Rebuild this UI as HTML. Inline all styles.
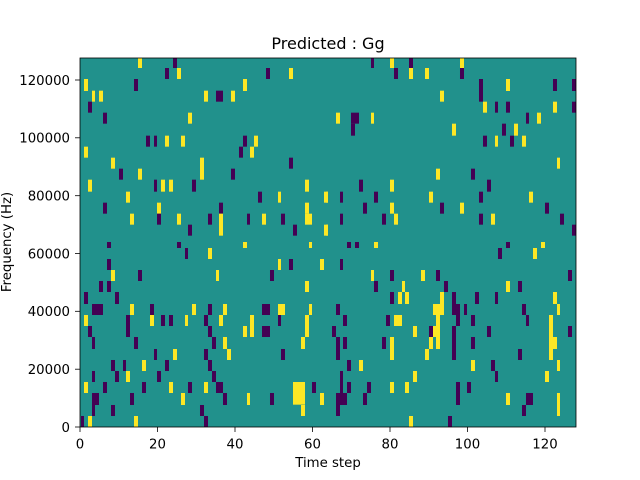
<!DOCTYPE html>
<html><head><meta charset="utf-8"><style>
body{margin:0;background:#fff;}
svg{display:block;font-family:"DejaVu Sans","Liberation Sans",sans-serif;}
</style></head><body>
<svg width="640" height="480" viewBox="0 0 640 480" xmlns="http://www.w3.org/2000/svg">
<defs><clipPath id="c"><rect x="80" y="58" width="496" height="369"/></clipPath>
<style>.y{fill:#fde725}.p{fill:#440154}</style></defs>
<rect x="80" y="58" width="496" height="369" fill="#21918c"/>
<g clip-path="url(#c)">
<g transform="translate(80,58) scale(0.33333)">
<rect class="y" x="174" y="0" width="12" height="30"/><rect class="p" x="279" y="0" width="12" height="30"/>
<rect class="p" x="255" y="30" width="12" height="33"/><rect class="y" x="291" y="30" width="12" height="33"/><rect class="p" x="558" y="30" width="12" height="33"/><rect class="y" x="627" y="30" width="12" height="33"/>
<rect class="y" x="12" y="63" width="12" height="36"/><rect class="p" x="162" y="63" width="12" height="36"/><rect class="y" x="489" y="63" width="12" height="36"/>
<rect class="y" x="36" y="98" width="9" height="33"/><rect class="y" x="57" y="98" width="12" height="33"/><rect class="y" x="372" y="98" width="12" height="33"/><rect class="p" x="408" y="98" width="21" height="33"/><rect class="y" x="453" y="98" width="12" height="33"/>
<rect class="p" x="24" y="131" width="12" height="33"/>
<rect class="p" x="69" y="164" width="12" height="33"/><rect class="y" x="324" y="164" width="12" height="33"/>
<rect class="p" x="198" y="233" width="12" height="33"/><rect class="p" x="222" y="233" width="9" height="33"/><rect class="y" x="255" y="233" width="12" height="33"/><rect class="y" x="303" y="233" width="12" height="33"/><rect class="p" x="489" y="233" width="12" height="33"/><rect class="y" x="522" y="233" width="12" height="33"/>
<rect class="y" x="12" y="266" width="12" height="33"/><rect class="p" x="477" y="266" width="12" height="33"/><rect class="y" x="510" y="266" width="12" height="33"/>
<rect class="y" x="93" y="299" width="12" height="33"/><rect class="y" x="360" y="299" width="12" height="66"/><rect class="p" x="627" y="299" width="12" height="33"/>
<rect class="p" x="117" y="332" width="12" height="33"/><rect class="y" x="174" y="332" width="12" height="33"/><rect class="p" x="453" y="332" width="12" height="33"/>
<rect class="y" x="24" y="365" width="12" height="36"/><rect class="p" x="222" y="365" width="9" height="36"/><rect class="y" x="243" y="365" width="12" height="36"/><rect class="y" x="267" y="365" width="12" height="36"/><rect class="p" x="336" y="365" width="12" height="36"/><rect class="y" x="675" y="365" width="12" height="36"/>
<rect class="y" x="138" y="401" width="12" height="33"/><rect class="p" x="534" y="401" width="12" height="33"/><rect class="y" x="594" y="401" width="9" height="33"/><rect class="y" x="732" y="401" width="12" height="33"/>
<rect class="p" x="69" y="434" width="12" height="33"/><rect class="y" x="231" y="434" width="12" height="33"/><rect class="p" x="417" y="434" width="12" height="33"/><rect class="y" x="675" y="434" width="12" height="33"/>
<rect class="y" x="150" y="467" width="12" height="33"/><rect class="p" x="231" y="467" width="12" height="33"/><rect class="y" x="291" y="467" width="12" height="33"/><rect class="p" x="384" y="467" width="12" height="33"/><rect class="y" x="417" y="467" width="12" height="66"/><rect class="p" x="501" y="467" width="9" height="33"/><rect class="y" x="546" y="467" width="12" height="33"/><rect class="p" x="603" y="467" width="12" height="33"/><rect class="y" x="675" y="467" width="21" height="33"/>
<rect class="p" x="324" y="500" width="12" height="33"/><rect class="p" x="639" y="500" width="12" height="33"/><rect class="y" x="732" y="500" width="12" height="33"/>
</g>
<g transform="translate(326,58) scale(0.33333)">
<rect class="p" x="135" y="0" width="9" height="30"/><rect class="y" x="192" y="0" width="12" height="30"/><rect class="p" x="249" y="0" width="12" height="30"/><rect class="y" x="402" y="0" width="12" height="30"/>
<rect class="p" x="204" y="30" width="12" height="33"/><rect class="y" x="249" y="30" width="12" height="33"/><rect class="y" x="297" y="30" width="12" height="33"/><rect class="p" x="402" y="30" width="12" height="33"/>
<rect class="p" x="459" y="63" width="12" height="68"/><rect class="y" x="540" y="63" width="12" height="36"/><rect class="p" x="681" y="63" width="12" height="36"/><rect class="p" x="738" y="63" width="12" height="36"/>
<rect class="y" x="342" y="98" width="12" height="33"/>
<rect class="y" x="471" y="131" width="12" height="33"/><rect class="p" x="507" y="131" width="9" height="33"/><rect class="p" x="540" y="131" width="12" height="33"/><rect class="y" x="681" y="131" width="12" height="33"/><rect class="p" x="738" y="131" width="12" height="33"/>
<rect class="y" x="30" y="164" width="12" height="33"/><rect class="p" x="75" y="164" width="24" height="33"/><rect class="p" x="75" y="197" width="12" height="36"/><rect class="y" x="135" y="164" width="9" height="33"/><rect class="p" x="600" y="164" width="9" height="33"/><rect class="y" x="633" y="164" width="12" height="33"/>
<rect class="y" x="378" y="197" width="12" height="36"/><rect class="p" x="528" y="197" width="12" height="36"/><rect class="y" x="564" y="197" width="12" height="36"/>
<rect class="p" x="471" y="233" width="12" height="33"/><rect class="y" x="507" y="233" width="9" height="33"/><rect class="p" x="552" y="233" width="12" height="33"/><rect class="y" x="588" y="233" width="12" height="33"/>
<rect class="y" x="693" y="299" width="9" height="33"/>
<rect class="y" x="330" y="332" width="12" height="33"/><rect class="p" x="435" y="332" width="12" height="33"/>
<rect class="p" x="99" y="365" width="12" height="36"/><rect class="y" x="192" y="365" width="12" height="36"/><rect class="p" x="483" y="365" width="12" height="36"/>
<rect class="y" x="0" y="401" width="6" height="33"/><rect class="p" x="42" y="401" width="9" height="33"/><rect class="p" x="144" y="401" width="12" height="33"/><rect class="y" x="309" y="401" width="12" height="33"/><rect class="p" x="459" y="401" width="12" height="33"/><rect class="y" x="609" y="401" width="12" height="33"/>
<rect class="p" x="111" y="434" width="12" height="33"/><rect class="y" x="192" y="434" width="12" height="33"/><rect class="p" x="342" y="434" width="12" height="33"/><rect class="y" x="402" y="434" width="12" height="33"/><rect class="p" x="657" y="434" width="12" height="33"/>
<rect class="p" x="42" y="467" width="9" height="33"/><rect class="p" x="168" y="467" width="12" height="33"/><rect class="y" x="204" y="467" width="12" height="33"/><rect class="p" x="459" y="467" width="12" height="33"/><rect class="y" x="495" y="467" width="12" height="33"/><rect class="p" x="702" y="467" width="12" height="33"/>
<rect class="y" x="0" y="500" width="6" height="33"/><rect class="p" x="738" y="500" width="12" height="33"/>
</g>
<g transform="translate(80,242) scale(0.33333)">
<rect class="p" x="81" y="0" width="12" height="18"/><rect class="p" x="291" y="0" width="12" height="18"/><rect class="y" x="489" y="0" width="12" height="18"/><rect class="y" x="687" y="0" width="9" height="18"/>
<rect class="p" x="315" y="18" width="9" height="33"/><rect class="y" x="384" y="18" width="12" height="33"/>
<rect class="p" x="81" y="51" width="12" height="33"/><rect class="y" x="594" y="51" width="9" height="33"/><rect class="p" x="627" y="51" width="12" height="33"/><rect class="y" x="720" y="51" width="12" height="33"/>
<rect class="y" x="93" y="84" width="12" height="33"/><rect class="p" x="174" y="84" width="12" height="33"/><rect class="y" x="408" y="84" width="9" height="33"/><rect class="p" x="570" y="84" width="12" height="33"/>
<rect class="p" x="57" y="117" width="12" height="33"/><rect class="p" x="81" y="117" width="12" height="33"/><rect class="y" x="675" y="117" width="12" height="33"/>
<rect class="p" x="12" y="150" width="12" height="36"/><rect class="p" x="105" y="150" width="12" height="36"/>
<rect class="p" x="36" y="186" width="33" height="33"/><rect class="y" x="150" y="186" width="12" height="33"/><rect class="p" x="210" y="186" width="12" height="33"/><rect class="y" x="336" y="186" width="12" height="33"/><rect class="p" x="384" y="186" width="12" height="33"/><rect class="y" x="429" y="186" width="12" height="33"/><rect class="p" x="546" y="186" width="24" height="33"/><rect class="y" x="594" y="186" width="21" height="33"/><rect class="y" x="687" y="186" width="9" height="33"/>
<rect class="y" x="12" y="219" width="12" height="33"/><rect class="p" x="138" y="219" width="12" height="66"/><rect class="y" x="210" y="219" width="12" height="33"/><rect class="p" x="243" y="219" width="12" height="33"/><rect class="p" x="267" y="219" width="12" height="33"/><rect class="y" x="315" y="219" width="9" height="33"/><rect class="p" x="372" y="219" width="12" height="33"/><rect class="y" x="417" y="219" width="12" height="33"/><rect class="y" x="510" y="219" width="12" height="66"/><rect class="p" x="594" y="219" width="9" height="33"/><rect class="y" x="675" y="219" width="12" height="66"/>
<rect class="p" x="24" y="252" width="12" height="33"/><rect class="p" x="384" y="252" width="12" height="33"/><rect class="y" x="489" y="252" width="12" height="33"/><rect class="p" x="546" y="252" width="24" height="33"/>
<rect class="p" x="36" y="285" width="9" height="36"/><rect class="p" x="162" y="285" width="12" height="36"/><rect class="p" x="396" y="285" width="12" height="36"/><rect class="y" x="429" y="285" width="12" height="36"/><rect class="y" x="663" y="285" width="12" height="36"/>
<rect class="p" x="222" y="321" width="9" height="33"/><rect class="y" x="279" y="321" width="12" height="33"/><rect class="p" x="372" y="321" width="12" height="33"/><rect class="y" x="441" y="321" width="12" height="33"/><rect class="p" x="603" y="321" width="12" height="33"/>
<rect class="p" x="93" y="354" width="12" height="33"/><rect class="p" x="129" y="354" width="9" height="33"/><rect class="y" x="186" y="354" width="12" height="33"/><rect class="p" x="255" y="354" width="12" height="33"/><rect class="p" x="384" y="354" width="12" height="33"/>
<rect class="p" x="36" y="387" width="9" height="33"/><rect class="p" x="105" y="387" width="12" height="33"/><rect class="y" x="138" y="387" width="12" height="33"/><rect class="p" x="231" y="387" width="12" height="33"/><rect class="p" x="396" y="387" width="12" height="33"/>
<rect class="y" x="12" y="420" width="12" height="33"/><rect class="p" x="69" y="420" width="12" height="33"/><rect class="p" x="186" y="420" width="12" height="33"/><rect class="y" x="267" y="420" width="12" height="33"/><rect class="p" x="324" y="420" width="12" height="33"/><rect class="y" x="372" y="420" width="12" height="33"/><rect class="p" x="408" y="420" width="21" height="33"/><rect class="y" x="639" y="420" width="36" height="68"/><rect class="p" x="696" y="420" width="12" height="33"/>
<rect class="p" x="36" y="453" width="21" height="36"/><rect class="p" x="150" y="453" width="12" height="36"/><rect class="y" x="303" y="453" width="12" height="36"/><rect class="p" x="429" y="453" width="12" height="36"/><rect class="y" x="501" y="453" width="9" height="36"/><rect class="p" x="570" y="453" width="12" height="36"/><rect class="y" x="720" y="453" width="12" height="36"/>
<rect class="p" x="36" y="489" width="9" height="33"/><rect class="p" x="93" y="489" width="12" height="33"/><rect class="p" x="360" y="489" width="12" height="33"/><rect class="y" x="663" y="489" width="12" height="33"/>
<rect class="p" x="3" y="522" width="9" height="33"/><rect class="y" x="24" y="522" width="12" height="33"/><rect class="y" x="162" y="522" width="12" height="33"/><rect class="p" x="372" y="522" width="12" height="33"/>
</g>
<g transform="translate(326,242) scale(0.33333)">
<rect class="p" x="63" y="0" width="12" height="18"/><rect class="p" x="87" y="0" width="12" height="18"/><rect class="y" x="144" y="0" width="12" height="18"/><rect class="p" x="540" y="0" width="12" height="18"/><rect class="y" x="645" y="0" width="12" height="18"/>
<rect class="p" x="516" y="18" width="12" height="33"/><rect class="y" x="621" y="18" width="12" height="33"/>
<rect class="p" x="42" y="51" width="9" height="33"/>
<rect class="y" x="135" y="84" width="9" height="33"/><rect class="p" x="192" y="84" width="12" height="33"/><rect class="y" x="285" y="84" width="12" height="33"/><rect class="p" x="330" y="84" width="12" height="33"/><rect class="p" x="726" y="84" width="12" height="33"/>
<rect class="p" x="144" y="117" width="12" height="33"/><rect class="y" x="228" y="117" width="9" height="33"/><rect class="p" x="354" y="117" width="12" height="33"/><rect class="y" x="540" y="117" width="12" height="33"/><rect class="p" x="576" y="117" width="12" height="33"/>
<rect class="p" x="192" y="150" width="12" height="36"/><rect class="y" x="216" y="150" width="12" height="36"/><rect class="y" x="237" y="150" width="12" height="36"/><rect class="y" x="342" y="150" width="12" height="36"/><rect class="p" x="378" y="150" width="12" height="36"/><rect class="p" x="447" y="150" width="12" height="36"/><rect class="p" x="507" y="150" width="9" height="36"/><rect class="y" x="681" y="150" width="12" height="36"/>
<rect class="p" x="30" y="186" width="12" height="33"/><rect class="y" x="321" y="186" width="33" height="33"/><rect class="p" x="378" y="186" width="24" height="33"/><rect class="p" x="414" y="186" width="9" height="33"/><rect class="p" x="588" y="186" width="12" height="33"/><rect class="y" x="693" y="186" width="9" height="33"/>
<rect class="p" x="51" y="219" width="12" height="33"/><rect class="p" x="180" y="219" width="12" height="33"/><rect class="y" x="204" y="219" width="24" height="33"/><rect class="y" x="330" y="219" width="12" height="33"/><rect class="p" x="390" y="219" width="12" height="33"/><rect class="p" x="435" y="219" width="12" height="33"/><rect class="p" x="600" y="219" width="9" height="33"/><rect class="y" x="669" y="219" width="12" height="66"/>
<rect class="p" x="18" y="252" width="12" height="33"/><rect class="y" x="261" y="252" width="12" height="33"/><rect class="p" x="309" y="252" width="12" height="33"/><rect class="y" x="321" y="252" width="21" height="33"/><rect class="p" x="378" y="252" width="12" height="102"/><rect class="p" x="483" y="252" width="12" height="33"/><rect class="p" x="726" y="252" width="12" height="33"/>
<rect class="p" x="30" y="285" width="12" height="69"/><rect class="p" x="51" y="285" width="12" height="36"/><rect class="p" x="168" y="285" width="12" height="36"/><rect class="y" x="192" y="285" width="12" height="69"/><rect class="y" x="309" y="285" width="12" height="36"/><rect class="y" x="330" y="285" width="12" height="36"/><rect class="p" x="435" y="285" width="12" height="36"/><rect class="y" x="669" y="285" width="24" height="36"/>
<rect class="y" x="297" y="321" width="12" height="33"/><rect class="p" x="576" y="321" width="12" height="33"/><rect class="y" x="669" y="321" width="12" height="33"/>
<rect class="p" x="63" y="354" width="12" height="33"/><rect class="y" x="99" y="354" width="12" height="33"/><rect class="y" x="435" y="354" width="12" height="33"/><rect class="p" x="495" y="354" width="12" height="33"/><rect class="y" x="693" y="354" width="9" height="33"/>
<rect class="p" x="42" y="387" width="9" height="102"/><rect class="y" x="261" y="387" width="12" height="33"/><rect class="p" x="507" y="387" width="9" height="33"/><rect class="y" x="657" y="387" width="12" height="33"/>
<rect class="p" x="63" y="420" width="12" height="33"/><rect class="p" x="123" y="420" width="12" height="33"/><rect class="y" x="192" y="420" width="12" height="33"/><rect class="y" x="237" y="420" width="12" height="33"/><rect class="p" x="390" y="420" width="12" height="69"/><rect class="p" x="423" y="420" width="12" height="33"/>
<rect class="p" x="30" y="453" width="33" height="36"/><rect class="p" x="111" y="453" width="12" height="36"/><rect class="y" x="540" y="453" width="12" height="36"/><rect class="p" x="600" y="453" width="21" height="36"/><rect class="y" x="693" y="453" width="9" height="69"/>
<rect class="p" x="30" y="489" width="12" height="33"/><rect class="p" x="588" y="489" width="12" height="33"/>
<rect class="y" x="249" y="522" width="12" height="33"/><rect class="p" x="366" y="522" width="12" height="33"/>
</g>
</g>
<rect x="80" y="58" width="496" height="369" fill="none" stroke="#000" stroke-width="0.8"/>
<g stroke="#000" stroke-width="0.8">
<line x1="80" y1="427" x2="80" y2="432"/><line x1="157.5" y1="427" x2="157.5" y2="432"/><line x1="235" y1="427" x2="235" y2="432"/><line x1="312.5" y1="427" x2="312.5" y2="432"/><line x1="390" y1="427" x2="390" y2="432"/><line x1="467.5" y1="427" x2="467.5" y2="432"/><line x1="545" y1="427" x2="545" y2="432"/>
<line x1="75" y1="427" x2="80" y2="427"/><line x1="75" y1="369.2" x2="80" y2="369.2"/><line x1="75" y1="311.3" x2="80" y2="311.3"/><line x1="75" y1="253.5" x2="80" y2="253.5"/><line x1="75" y1="195.7" x2="80" y2="195.7"/><line x1="75" y1="137.8" x2="80" y2="137.8"/><line x1="75" y1="80" x2="75" y2="80"/><line x1="75" y1="80" x2="80" y2="80"/>
</g>
<g font-size="13.3" fill="#000" text-anchor="middle">
<text x="80" y="448.5">0</text><text x="157.5" y="448.5">20</text><text x="235" y="448.5">40</text><text x="312.5" y="448.5">60</text><text x="390" y="448.5">80</text><text x="467.5" y="448.5">100</text><text x="545" y="448.5">120</text>
</g>
<g font-size="13.3" fill="#000" text-anchor="end">
<text x="70" y="431.8">0</text><text x="70" y="374">20000</text><text x="70" y="316.1">40000</text><text x="70" y="258.3">60000</text><text x="70" y="200.5">80000</text><text x="70" y="142.6">100000</text><text x="70" y="84.8">120000</text>
</g>
<text x="328" y="467" font-size="13.3" text-anchor="middle">Time step</text>
<text transform="translate(11,242) rotate(-90)" font-size="13.3" text-anchor="middle">Frequency (Hz)</text>
<text x="328" y="49" font-size="16" text-anchor="middle">Predicted : Gg</text>
</svg>
</body></html>
